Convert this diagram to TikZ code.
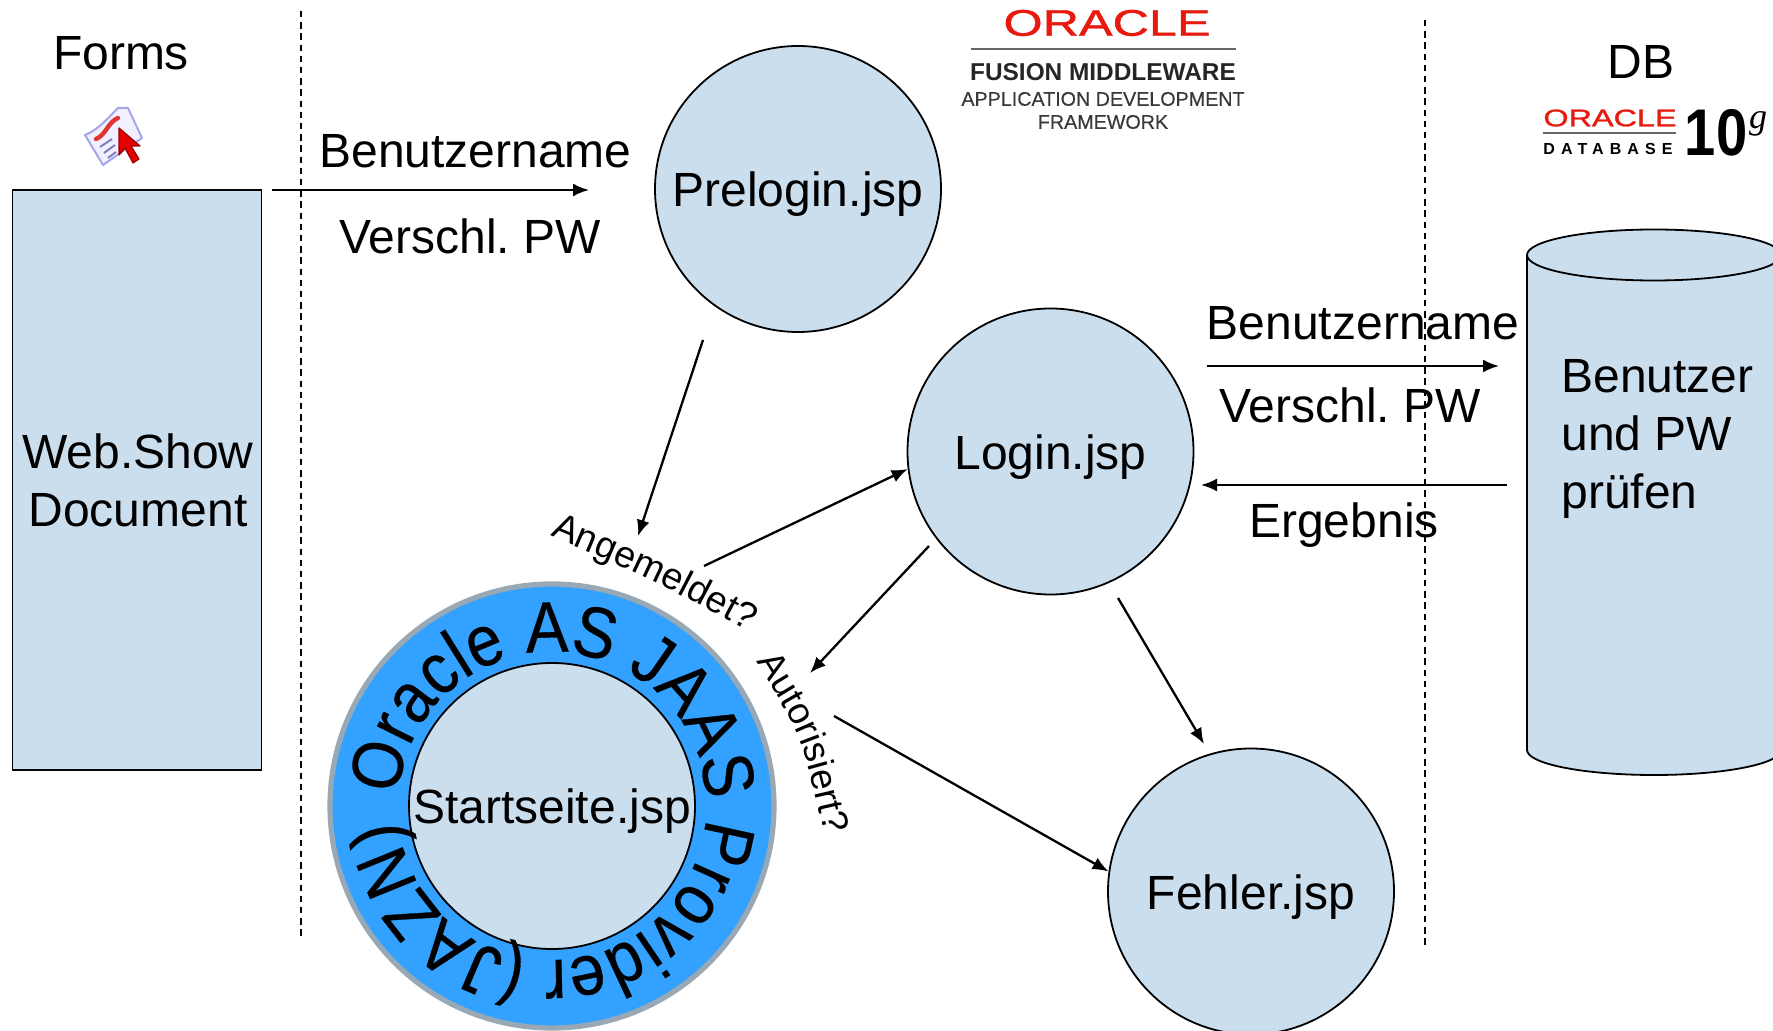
\documentclass[tikz,border=0pt]{standalone}
\usepackage{fontspec}
\setmainfont{Liberation Sans}
\newfontfamily\ringfont[FakeStretch=0.885,FakeBold=0.4]{Liberation Sans}
\newfontfamily\spacedfont[LetterSpace=38]{Liberation Sans}
\newfontfamily\gfont{Liberation Serif}
\newfontfamily\logofont[FakeBold=1.0]{Liberation Sans}
\newfontfamily\smalllogofont[FakeBold=0.3]{Liberation Sans}
\usetikzlibrary{arrows.meta,decorations.text}
\definecolor{paleblue}{HTML}{CBDEEE}
\definecolor{ringblue}{HTML}{33A1FF}
\definecolor{ringgrey}{HTML}{99A8B5}
\definecolor{orared}{HTML}{E8190F}
\AtBeginDocument{\frenchspacing}
\newcommand{\pagetext}[1]{\raisebox{-8.9pt}[0pt][0pt]{#1}}
\tikzset{
  lbl/.style={font=\fontsize{24}{29}\selectfont,inner sep=0pt},
  page/.style={circle,draw=black,fill=paleblue,line width=0.9pt,minimum size=143pt,inner sep=0pt,font=\fontsize{24}{29}\selectfont},
  conn/.style={line width=1.15pt,-{Latex[length=8pt,width=6.5pt]}},
  divider/.style={line width=0.7pt,dash pattern=on 3.2pt off 2.4pt},
  logogrey/.style={inner sep=0pt,text=black!78},
}
\begin{document}
\begin{tikzpicture}[x=0.5pt,y=0.5pt]
\useasboundingbox (0,0) rectangle (1773,-1031);
\fill[white] (0,0) rectangle (1773,-1031);
% dividers
\coordinate (d1a) at (301,-11); \coordinate (d1b) at (301,-936);
\coordinate (d2a) at (1425,-20); \coordinate (d2b) at (1425,-946);
\draw[divider] (d1a) -- (d1b);
\draw[divider] (d2a) -- (d2b);
% web show document
\node[draw=black,fill=paleblue,line width=0.9pt,minimum width=124.5pt,minimum height=290pt,inner sep=0pt] (web) at (137,-480) {};
\node[lbl,align=center] (webtxt) at (138,-480.5) {Web.Show\\Document};
\node[lbl] (forms) at (121,-53) {Forms};
% icon
\filldraw[draw=black!25!blue!35!white,fill=blue!6,line width=1pt,line join=round] (85,-135) .. controls (98,-130) and (108,-118) .. (118,-108) -- (128,-108) -- (142,-138) -- (103,-165) -- cycle;
\draw[red!85!black!80,line width=2.2pt,line cap=round] (96,-139) .. controls (106,-135) and (108,-122) .. (118,-118);
\draw[blue!50!black!50,line width=1pt] (100,-147) -- (112,-139) (104,-153) -- (115,-145) (108,-158) -- (116,-152);
\filldraw[draw=black!40!red,fill=red!90!black,line width=0.6pt,line join=round] (119,-128) -- (119,-155) -- (125,-148) -- (133,-163) -- (139,-159) -- (131,-146) -- (140,-146) -- cycle;
% jsp pages
\node[page] (prelogin) at (798,-189) {\pagetext{Prelogin.jsp}};
\node[page] (login) at (1050.5,-451.5) {\pagetext{Login.jsp}};
\node[page] (fehler) at (1251,-891.5) {\pagetext{Fehler.jsp}};
% ring
\node[circle,draw=ringgrey,fill=ringblue,line width=2.6pt,minimum size=222pt,inner sep=0pt] (ring) at (552,-806) {};
\node[page] (start) at (552,-806) {\pagetext{Startseite.jsp}};
\path[decorate,decoration={text along path,text align=left,text={|\ringfont\fontsize{36}{40}\selectfont|Oracle AS JAAS Provider (JAZN)}}]
  ([shift={(176:154)}]ring.center) arc (176:-183:154);
% curved labels
\coordinate (angA) at (550,-536);
\coordinate (angB) at (766,-641);
\coordinate (angC) at (652,-579);
\path[decorate,decoration={text along path,text align=left,text={|\fontsize{18.7}{22}\selectfont|Angemeldet?}}]
  (angA) .. controls (angC) .. (angB);
\coordinate (autoA) at (756,-662);
\coordinate (autoB) at (828,-850);
\coordinate (autoC) at (803,-737);
\path[decorate,decoration={text along path,text align=left,text={|\fontsize{18.5}{22}\selectfont|Autorisiert?}}]
  (autoA) .. controls (autoC) .. (autoB);
% cylinder
\fill[paleblue] (1527,-255) -- (1527,-750) arc (180:360:127 and 25) -- (1781,-255) -- cycle;
\draw[line width=0.9pt] (1781,-750) arc (0:-180:127 and 25) -- (1527,-255);
\filldraw[fill=paleblue,draw=black,line width=0.9pt] (1654,-255) ellipse (127 and 25.5);
\node[lbl,align=left,anchor=north west] (cyltxt) at (1561,-359) {Benutzer\\und PW\\prüfen};
\node[lbl] (db) at (1641,-62) {DB};
% fusion logo
\node[inner sep=0pt,text=orared,font=\fontsize{18.5}{20}\logofont\selectfont,xscale=1.36] (ora1) at (1107,-23) {ORACLE};
\coordinate (la) at (971,-49); \coordinate (lb) at (1236,-49);
\draw[black!60,line width=1pt] (la) -- (lb);
\node[logogrey,text=black!85,font=\fontsize{12.2}{14}\bfseries\selectfont] (fm) at (1103,-72) {FUSION MIDDLEWARE};
\node[logogrey,font=\fontsize{9.85}{12}\smalllogofont\selectfont] (adf) at (1103,-99) {APPLICATION DEVELOPMENT};
\node[logogrey,font=\fontsize{9.85}{12}\smalllogofont\selectfont] (fw) at (1103,-122) {FRAMEWORK};
% 10g logo
\node[inner sep=0pt,text=orared,font=\fontsize{12}{14}\logofont\selectfont,xscale=1.35] (ora2) at (1610,-118) {ORACLE};
\coordinate (lc) at (1543,-133); \coordinate (ld) at (1676,-133);
\draw[black!60,line width=0.8pt] (lc) -- (ld);
\node[inner sep=0pt,font=\fontsize{8}{10}\spacedfont\bfseries\selectfont] (dbase) at (1608,-149) {DATABASE};
\node[inner sep=0pt,font=\fontsize{33}{36}\bfseries\selectfont,xscale=.85] (ten) at (1716,-133) {10};
\node[inner sep=0pt,font=\fontsize{18}{20}\gfont\itshape\selectfont] (gee) at (1758,-124) {g};
% arrow labels
\node[lbl] (u1) at (475.5,-151) {Benutzername};
\node[lbl] (p1) at (470,-236) {Verschl. PW};
\node[lbl] (u2) at (1363,-323) {Benutzername};
\node[lbl] (p2) at (1350,-405) {Verschl. PW};
\node[lbl] (erg) at (1344,-525) {Ergebnis};
% connectors
\coordinate (a1s) at (272,-190); \coordinate (a1e) at (589,-190);
\coordinate (a2s) at (703,-340); \coordinate (a2e) at (638,-536);
\coordinate (a3s) at (704,-566);
\coordinate (a4s) at (929,-546); \coordinate (a4e) at (810,-673);
\coordinate (a5s) at (834,-716);
\coordinate (a6s) at (1118,-598); \coordinate (a6e) at (1204,-744);
\coordinate (a7s) at (1207,-366); \coordinate (a7e) at (1499,-366);
\coordinate (a8s) at (1507,-485); \coordinate (a8e) at (1201,-485);
\draw[conn] (a1s) -- (a1e);
\draw[conn] (a2s) -- (a2e);
\draw[conn] (a3s) -- (login.187);
\draw[conn] (a4s) -- (a4e);
\draw[conn] (a5s) -- (fehler.172);
\draw[conn] (a6s) -- (a6e);
\draw[conn] (a7s) -- (a7e);
\draw[conn] (a8s) -- (a8e);
\end{tikzpicture}
\end{document}
